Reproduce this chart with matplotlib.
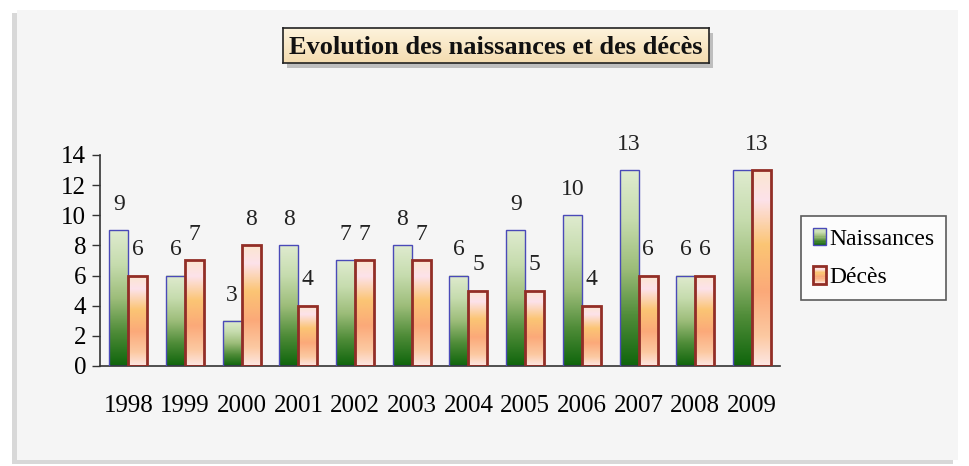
import numpy as np
import matplotlib.pyplot as plt
from matplotlib.patches import Rectangle
from matplotlib.colors import LinearSegmentedColormap
from matplotlib.legend_handler import HandlerBase

years = ["1998", "1999", "2000", "2001", "2002", "2003", "2004", "2005",
         "2006", "2007", "2008", "2009"]
naissances = [9, 6, 3, 8, 7, 8, 6, 9, 10, 13, 6, 13]
deces = [6, 7, 8, 4, 7, 7, 5, 5, 4, 6, 6, 13]

plt.rcParams['font.family'] = ['Liberation Serif', 'DejaVu Serif']

# gradients (bottom -> top)
green_cm = LinearSegmentedColormap.from_list(
    "vert", ["#0f650c", "#4f8c38", "#9dbd7a", "#c6dcae", "#dfebcf"])
orange_cm = LinearSegmentedColormap.from_list(
    "orange", [(0.0, "#fde6e2"), (0.15, "#fcc9a2"), (0.38, "#fba979"),
               (0.62, "#fbc574"), (0.85, "#fde2ea"), (1.0, "#fbe6d0")])

fig = plt.figure(figsize=(9.69, 4.66), dpi=100)
fig.patch.set_facecolor("white")

# panel background with shadow
fig.patches.append(Rectangle((0.012, 0.004), 0.972, 0.968, transform=fig.transFigure,
                             facecolor="#d8d8d8", edgecolor="none", zorder=-3))
fig.patches.append(Rectangle((0.0175, 0.013), 0.971, 0.966, transform=fig.transFigure,
                             facecolor="#f5f5f5", edgecolor="none", zorder=-2))

ax = fig.add_axes([0.1032, 0.2146, 0.702, 0.4528])
ax.set_facecolor("none")

x = np.arange(len(years))
w = 0.335
grad = np.linspace(0, 1, 200).reshape(-1, 1)

for i in range(len(years)):
    x0 = x[i] - w
    ax.imshow(grad, extent=[x0, x0 + w, 0, naissances[i]], origin="lower",
              cmap=green_cm, aspect="auto", zorder=2)
    ax.imshow(grad, extent=[x[i], x[i] + w, 0, deces[i]], origin="lower",
              cmap=orange_cm, aspect="auto", zorder=2)

ax.bar(x - w / 2, naissances, w, fill=False, edgecolor="#4a4ab8", linewidth=1.0, zorder=3)
ax.bar(x + w / 2, deces, w, fill=False, edgecolor="#922e26", linewidth=2.0, zorder=3)

for i in range(len(years)):
    # two wide equal labels collide: only one is shown, between the bars
    same = naissances[i] == deces[i] and naissances[i] >= 10
    if not same:
        ax.annotate(str(naissances[i]), (x[i] - w / 2, naissances[i]), xytext=(0, 11),
                    textcoords="offset points", ha="center", va="bottom", fontsize=17,
                    color="#222222", annotation_clip=False)
    xd = x[i] + w / 4 if same else x[i] + w / 2
    ax.annotate(str(deces[i]), (xd, deces[i]), xytext=(0, 11),
                textcoords="offset points", ha="center", va="bottom", fontsize=17,
                color="#222222", annotation_clip=False)

ax.set_xlim(-0.5, len(years) - 0.5)
ax.set_ylim(0, 14)
ax.set_yticks(range(0, 15, 2))
ax.set_xticks(x)
ax.set_xticklabels(years)
ax.tick_params(axis="x", length=0, pad=21, labelsize=18)
ax.tick_params(axis="y", length=6, width=1, pad=4, labelsize=18, color="#333333")
for s in ["top", "right"]:
    ax.spines[s].set_visible(False)
for s in ["left", "bottom"]:
    ax.spines[s].set_color("#333333")
    ax.spines[s].set_linewidth(1.2)


class GradHandler(HandlerBase):
    def __init__(self, cmap, edge, lw):
        super().__init__()
        self.cmap = cmap
        self.edge = edge
        self.lw = lw

    def create_artists(self, legend, orig_handle, xdescent, ydescent, width,
                       height, fontsize, trans):
        arts = []
        n = 14
        for k in range(n):
            arts.append(Rectangle((-xdescent, -ydescent + height * k / n), width,
                                  height / n, facecolor=self.cmap((k + 0.5) / n),
                                  edgecolor="none", transform=trans))
        arts.append(Rectangle((-xdescent, -ydescent), width, height, fill=False,
                              edgecolor=self.edge, linewidth=self.lw, transform=trans))
        return arts


h1 = Rectangle((0, 0), 1, 1)
h2 = Rectangle((0, 0), 1, 1)
leg = fig.legend([h1, h2], ["Naissances", "Décès"],
                 handler_map={h1: GradHandler(green_cm, "#4a4ab8", 1.0),
                              h2: GradHandler(orange_cm, "#922e26", 2.0)},
                 loc="upper left", bbox_to_anchor=(0.8266, 0.5365),
                 fontsize=17, frameon=True, fancybox=False, handlelength=0.55,
                 handleheight=0.75, handletextpad=0.15, labelspacing=0.7,
                 borderpad=0.5, borderaxespad=0)
leg.get_frame().set_edgecolor("#333333")
leg.get_frame().set_linewidth(1.2)
leg.get_frame().set_facecolor("white")

# title box with gradient and shadow
fig.patches.append(Rectangle((0.296, 0.855), 0.4396, 0.0751, transform=fig.transFigure,
                             facecolor="#9a9a9a", edgecolor="none", alpha=0.6, zorder=1))
tax = fig.add_axes([0.292, 0.8648, 0.4396, 0.0751])
tax.set_zorder(5)
tax.imshow(np.linspace(0, 1, 50).reshape(-1, 1), origin="lower", aspect="auto",
           cmap=LinearSegmentedColormap.from_list("beige", ["#f4dcb0", "#fdf3dc"]),
           extent=[0, 1, 0, 1])
tax.set_xticks([])
tax.set_yticks([])
for s in tax.spines.values():
    s.set_color("#222222")
    s.set_linewidth(1.2)
tax.text(0.5, 0.45, "Evolution des naissances et des décès", ha="center", va="center",
         fontsize=19, fontweight="bold", color="#111111", transform=tax.transAxes)

fig.savefig("out.png", dpi=100)
